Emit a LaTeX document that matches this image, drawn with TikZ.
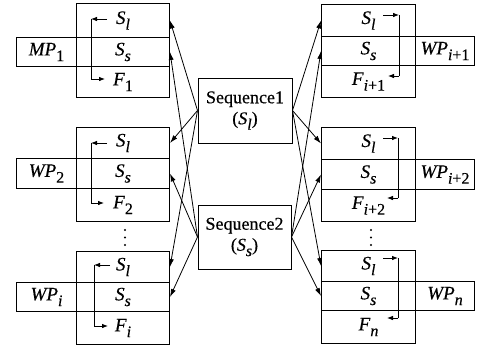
\documentclass[tikz,border=0pt]{standalone}
\usepackage{fontspec}
\setmainfont{Liberation Serif}[UprightFeatures={FakeBold=0.4}, ItalicFeatures={FakeBold=0.4}]
\usetikzlibrary{arrows.meta}
\newcommand{\vsub}[2]{\textit{#1}\raisebox{-0.3em}{\fontsize{16}{16}\selectfont #2}}
\begin{document}
\begin{tikzpicture}[x=1pt,y=-1pt, font=\fontsize{19}{21.5}\selectfont, line width=1pt,
 cell/.style={draw, inner sep=0pt, anchor=north west},
 conn/.style={-{Latex[length=8pt,width=5pt]}, line width=0.8pt},
 loopar/.style={-{Latex[length=6pt,width=4.6pt]}, line width=0.9pt},
 dotc/.style={fill, circle, inner sep=0pt, minimum size=2.4pt}]
\useasboundingbox (0,0) rectangle (482,349);

% left block 1
\node[cell, minimum width=93pt, minimum height=34pt] (l1a) at (76,3) {\vsub{S}{\textit{l}}};
\node[cell, minimum width=93pt, minimum height=29pt] (l1b) at (76,37) {\vsub{S}{\textit{s}}};
\node[cell, minimum width=93pt, minimum height=31pt] (l1c) at (76,66) {\vsub{F}{1}};
\node[cell, minimum width=60pt, minimum height=29pt] (l1w) at (16,37) {\vsub{MP}{1}};
% left block 2
\node[cell, minimum width=93pt, minimum height=31pt] (l2a) at (76,127) {\vsub{S}{\textit{l}}};
\node[cell, minimum width=93pt, minimum height=30pt] (l2b) at (76,158) {\vsub{S}{\textit{s}}};
\node[cell, minimum width=93pt, minimum height=33pt] (l2c) at (76,188) {\vsub{F}{2}};
\node[cell, minimum width=60pt, minimum height=30pt] (l2w) at (16,158) {\vsub{WP}{2}};
% left block 3
\node[cell, minimum width=93pt, minimum height=31pt] (l3a) at (76,251) {\vsub{S}{\textit{l}}};
\node[cell, minimum width=93pt, minimum height=29pt] (l3b) at (76,282) {\vsub{S}{\textit{s}}};
\node[cell, minimum width=93pt, minimum height=33pt] (l3c) at (76,311) {\vsub{F}{\textit{i}}};
\node[cell, minimum width=60pt, minimum height=29pt] (l3w) at (16,282) {\vsub{WP}{\textit{i}}};

% right block 1
\node[cell, minimum width=94pt, minimum height=32pt] (r1a) at (321,4) {\vsub{S}{\textit{l}}};
\node[cell, minimum width=94pt, minimum height=29pt] (r1b) at (321,36) {\vsub{S}{\textit{s}}};
\node[cell, minimum width=94pt, minimum height=32pt] (r1c) at (321,65) {\vsub{F}{\textit{i}+1}};
\node[cell, minimum width=59pt, minimum height=29pt] (r1w) at (415,36) {\vsub{WP}{\textit{i}+1}};
% right block 2
\node[cell, minimum width=94pt, minimum height=32pt] (r2a) at (321,127) {\vsub{S}{\textit{l}}};
\node[cell, minimum width=94pt, minimum height=30pt] (r2b) at (321,159) {\vsub{S}{\textit{s}}};
\node[cell, minimum width=94pt, minimum height=32pt] (r2c) at (321,189) {\vsub{F}{\textit{i}+2}};
\node[cell, minimum width=59pt, minimum height=30pt] (r2w) at (415,159) {\vsub{WP}{\textit{i}+2}};
% right block 3
\node[cell, minimum width=94pt, minimum height=31pt] (r3a) at (321,250) {\vsub{S}{\textit{l}}};
\node[cell, minimum width=94pt, minimum height=29pt] (r3b) at (321,281) {\vsub{S}{\textit{s}}};
\node[cell, minimum width=94pt, minimum height=33pt] (r3c) at (321,310) {\vsub{F}{\textit{n}}};
\node[cell, minimum width=59pt, minimum height=29pt] (r3w) at (415,281) {\vsub{WP}{\textit{n}}};

% sequence boxes
\node[draw, minimum width=94pt, minimum height=65pt, align=center, inner sep=0pt, font=\fontsize{18}{21}\selectfont] (q1) at (245,110.5) {Sequence1\\(\vsub{S}{\textit{l}})};
\node[draw, minimum width=93pt, minimum height=64pt, align=center, inner sep=0pt, font=\fontsize{18}{21}\selectfont] (q2) at (244.5,237) {Sequence2\\(\vsub{S}{\textit{s}})};

% connectors
\foreach \k in {1,2,3} {
  \draw[conn] (q1.west) -- (l\k a.east);
  \draw[conn] (q2.west) -- (l\k b.east);
  \draw[conn] (q1.east) -- (r\k a.west);
  \draw[conn] (q2.east) -- (r\k b.west);
}

% loops left
\draw[loopar] (107,19) -- (91,19);
\draw[loopar] (91,19) -- (91,79) -- (105,79);
\draw[loopar] (107,143) -- (91,143);
\draw[loopar] (91,143) -- (91,203) -- (104,203);
\draw[loopar] (110,265) -- (94,265);
\draw[loopar] (94,265) -- (94,326) -- (108,326);
% loops right
\draw[loopar] (383,15) -- (399,15);
\draw (399,15) -- (399,76);
\draw[loopar] (399,76) -- (388,76);
\draw[loopar] (383,138) -- (398,138);
\draw (398,138) -- (398,198);
\draw[loopar] (398,198) -- (387,198);
\draw[loopar] (383,258) -- (398,258);
\draw (398,258) -- (398,318);
\draw[loopar] (398,318) -- (387,318);

% dots
\node[dotc] (dl1) at (125,230) {};
\node[dotc] (dl2) at (125,237.5) {};
\node[dotc] (dl3) at (125,245) {};
\node[dotc] (dr1) at (371,230) {};
\node[dotc] (dr2) at (371,237.5) {};
\node[dotc] (dr3) at (371,245) {};
\end{tikzpicture}
\end{document}
